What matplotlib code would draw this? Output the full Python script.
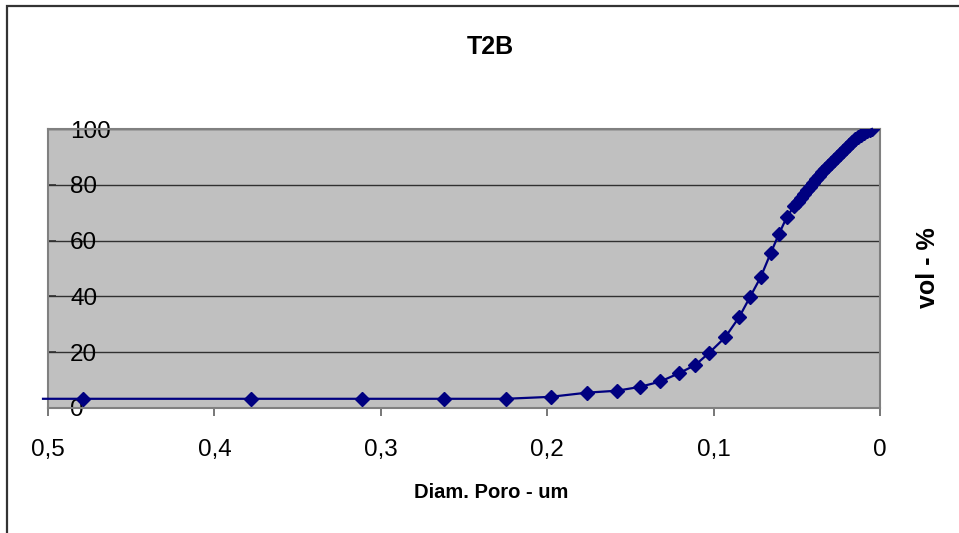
import matplotlib
matplotlib.use("Agg")
import matplotlib.pyplot as plt
from matplotlib.patches import Rectangle

plt.rcParams['font.family'] = ['Liberation Sans', 'DejaVu Sans']

# Pore diameter (um) and cumulative volume (%)
diam = [0.503, 0.479, 0.378, 0.311, 0.262, 0.225, 0.198, 0.176, 0.158, 0.144,
        0.132, 0.121, 0.111, 0.1026, 0.0931, 0.0846, 0.0781, 0.0717, 0.0657,
        0.0607, 0.0561, 0.0515, 0.0493, 0.0475, 0.0457, 0.0439, 0.0421,
        0.0403, 0.0385, 0.0367, 0.0349, 0.0331, 0.0313, 0.0294, 0.0276,
        0.0258, 0.0240, 0.0222, 0.0204, 0.0186, 0.0168, 0.0150, 0.0132,
        0.0114, 0.0096, 0.0078, 0.0060, 0.0048]
vol = [3.3, 3.3, 3.3, 3.3, 3.3, 3.3, 4.0, 5.5, 6.2, 7.6,
       9.5, 12.4, 15.4, 19.8, 25.3, 32.6, 39.8, 46.9, 55.5,
       62.4, 68.3, 72.5, 73.9, 75.4, 76.8, 78.2, 79.3,
       80.7, 82.1, 83.2, 84.6, 85.7, 86.8, 87.9, 88.9,
       90.0, 91.1, 92.1, 93.2, 94.3, 95.4, 96.4, 97.1,
       97.9, 98.6, 99.3, 99.6, 100.0]

x_ticks = [0.5, 0.4, 0.3, 0.2, 0.1, 0.0]
x_tick_labels = ["0,5", "0,4", "0,3", "0,2", "0,1", "0"]
y_ticks = [0, 20, 40, 60, 80, 100]

navy = "#000080"

fig = plt.figure(figsize=(9.59, 5.33), dpi=100)
fig.patch.set_facecolor("white")

# outer chart frame
fig.patches.append(Rectangle((7 / 959, -0.05), 1.2, 1 - 6 / 533 + 0.05,
                             transform=fig.transFigure, fill=False,
                             edgecolor="#333333", linewidth=1.6))

ax = fig.add_axes([48 / 959, 1 - 408 / 533, 832 / 959, 279 / 533])
ax.set_facecolor("#C0C0C0")

ax.plot(diam, vol, color=navy, linewidth=1.6, clip_on=False, zorder=3)
ax.plot(diam[1:], vol[1:], linestyle="none", marker="D", markersize=7.5,
        color=navy, zorder=4)

ax.set_xlim(0.5, 0)
ax.set_ylim(0, 100)
ax.set_xticks(x_ticks)
ax.set_xticklabels(x_tick_labels)
ax.set_yticks(y_ticks)

for v in y_ticks[1:]:
    ax.axhline(v, color="#303030", linewidth=1.0, zorder=1)

for s in ax.spines.values():
    s.set_color("#808080")
    s.set_linewidth(1.5)

ax.tick_params(axis="x", direction="out", length=6, width=1.2,
               color="#606060", labelsize=17.5, pad=16)
ax.tick_params(axis="y", direction="in", length=6, width=1.2,
               color="#303030", labelsize=17.5, pad=-16)
for lbl in ax.get_yticklabels():
    lbl.set_horizontalalignment("left")

fig.text(490 / 959, 1 - 47 / 533, "T2B", ha="center", va="center",
         fontsize=18, fontweight="bold")
fig.text(491 / 959, 1 - 493 / 533, "Diam. Poro - um", ha="center",
         va="center", fontsize=14.5, fontweight="bold")
fig.text(928 / 959, 1 - 268 / 533, "vol - %", ha="center", va="center",
         rotation=90, fontsize=18, fontweight="bold")

fig.savefig("out.png", dpi=100)
